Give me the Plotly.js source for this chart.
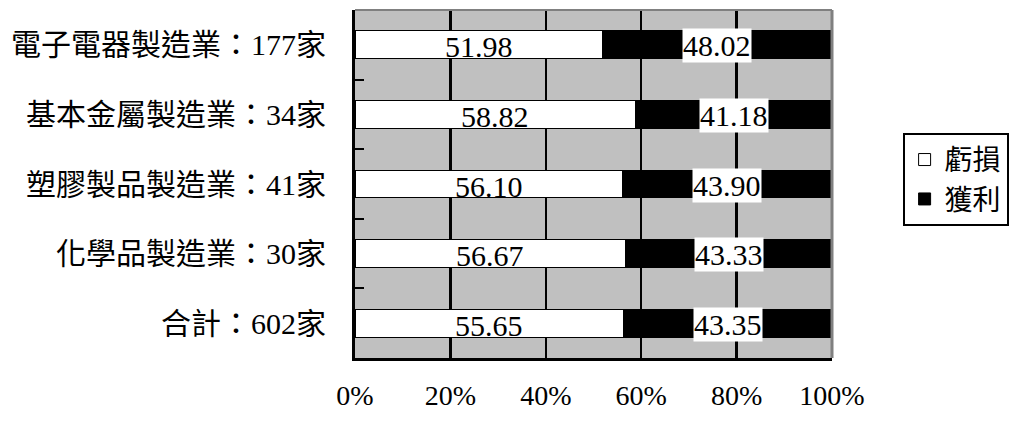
<!DOCTYPE html>
<html>
<head>
<meta charset="utf-8">
<script src="https://cdn.plot.ly/plotly-3.0.1.min.js"></script>
<style>html,body{margin:0;padding:0;background:#fff;}#chart{width:1010px;height:421px;}</style>
</head>
<body>
<div id="chart"></div>
<script>
const categories = ['電子電器製造業：177家', '基本金屬製造業：34家', '塑膠製品製造業：41家', '化學品製造業：30家', '合計：602家'];
const lossValues = [51.98, 58.82, 56.10, 56.67, 55.65];
const profitValues = [48.02, 41.18, 43.90, 43.33, 43.35];
const lossLabels = ['51.98', '58.82', '56.10', '56.67', '55.65'];
const profitLabels = ['48.02', '41.18', '43.90', '43.33', '43.35'];
const tickVals = [0, 20, 40, 60, 80, 100];
const tickText = ['0%', '20%', '40%', '60%', '80%', '100%'];

const serif = 'Liberation Serif, Noto Sans CJK TC, serif';

const traces = [
  {type: 'bar', orientation: 'h', name: '虧損', y: categories, x: lossValues,
   marker: {color: '#ffffff', line: {color: '#000000', width: 1}}, hoverinfo: 'skip'},
  {type: 'bar', orientation: 'h', name: '獲利', y: categories, x: profitValues,
   marker: {color: '#000000', line: {color: '#000000', width: 1}}, hoverinfo: 'skip'}
];

const annotations = [];
categories.forEach((c, i) => {
  const tot = lossValues[i] + profitValues[i];
  const lossPct = 100 * lossValues[i] / tot;
  annotations.push({x: lossPct / 2, y: c, xref: 'x', yref: 'y', text: lossLabels[i], showarrow: false,
    font: {family: serif, size: 30, color: '#000'}, yshift: -2});
  annotations.push({x: lossPct + (100 - lossPct) / 2, y: c, xref: 'x', yref: 'y', text: profitLabels[i], showarrow: false,
    font: {family: serif, size: 30, color: '#000'}, bgcolor: '#ffffff', borderpad: 0, yshift: -1});
});

const layout = {
  width: 1010, height: 421,
  margin: {l: 355, r: 178, t: 10, b: 63, autoexpand: false},
  paper_bgcolor: '#ffffff', plot_bgcolor: '#c0c0c0',
  barmode: 'stack', barnorm: 'percent', bargap: 0.6,
  showlegend: true,
  legend: {x: 1.148, y: 0.647, xanchor: 'left', yanchor: 'top', bordercolor: '#000', borderwidth: 2,
    bgcolor: '#ffffff', traceorder: 'normal', tracegroupgap: 0,
    font: {family: 'Noto Sans CJK TC, sans-serif', size: 28, color: '#000'}},
  xaxis: {range: [0, 100], tickvals: tickVals, ticktext: tickText, showgrid: true, gridcolor: '#000', gridwidth: 2.5,
    zeroline: false, showline: true, linecolor: '#000', linewidth: 3, ticks: '', ticklabelstandoff: 10,
    tickfont: {family: serif, size: 28, color: '#000'}, fixedrange: true},
  yaxis: {autorange: 'reversed', type: 'category', showgrid: false, zeroline: false, showline: true, linecolor: '#000', linewidth: 3,
    ticks: 'inside', tickson: 'boundaries', ticklen: 9, tickwidth: 2, tickcolor: '#000', ticklabelstandoff: 20,
    tickfont: {family: serif, size: 30, color: '#000'}, fixedrange: true},
  shapes: [
    {type: 'line', xref: 'paper', yref: 'paper', x0: 0, x1: 1, y0: 1, y1: 1, line: {color: '#808080', width: 2}, layer: 'above'},
    {type: 'line', xref: 'paper', yref: 'paper', x0: 1, x1: 1, y0: 0, y1: 1, line: {color: '#808080', width: 3}, layer: 'above'}
  ],
  annotations: annotations
};

Plotly.newPlot('chart', traces, layout, {displayModeBar: false, staticPlot: true});
</script>
</body>
</html>
